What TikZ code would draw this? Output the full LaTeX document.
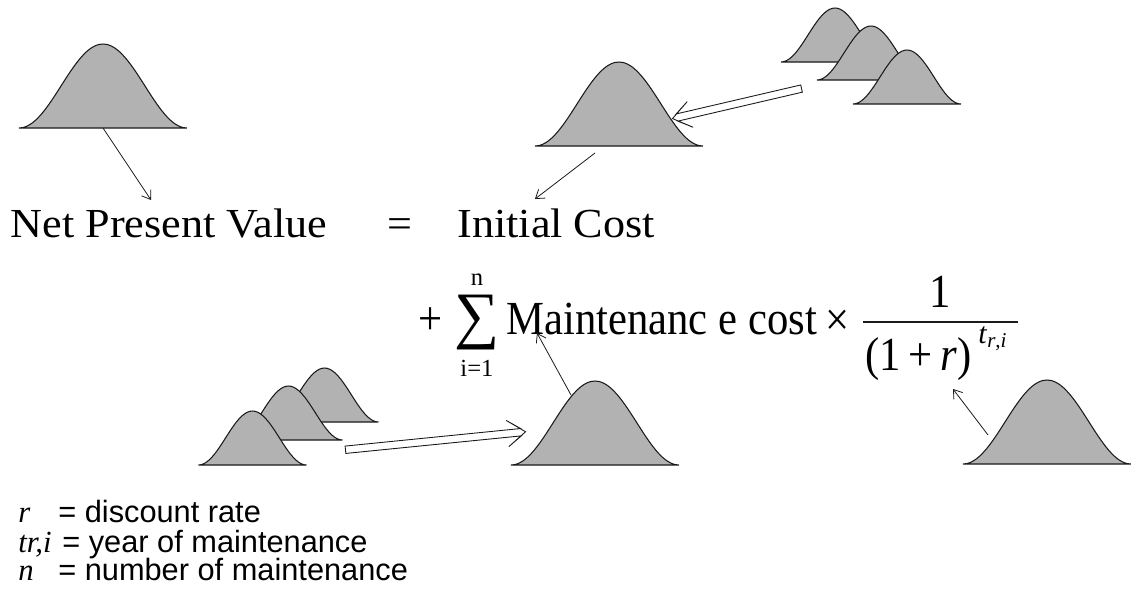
\documentclass[tikz,border=0pt]{standalone}
\usepackage{fontspec}
\setmainfont{Liberation Serif}
\setsansfont{Liberation Sans}
\newfontfamily\npvfont[FakeStretch=1.07]{Liberation Serif}
\newfontfamily\sumfont[FakeStretch=0.9]{Liberation Serif}
\usepackage{tikz}
\usetikzlibrary{arrows.meta,calc,positioning,shapes.arrows}
\definecolor{NPVGray}{HTML}{B2B2B2}
\definecolor{NPVLine}{HTML}{1A1A1A}

\begin{document}
\begin{tikzpicture}[
  x=1cm,y=1cm,>=Latex,
  edge/.style={-{Straight Barb[length=1.6mm,width=2.2mm]},draw=NPVLine,line width=0.45pt},
  hollow/.style={single arrow,draw=NPVLine,fill=white,line width=0.5pt,inner sep=0.065cm,single arrow head extend=0.19cm,single arrow tip angle=72,single arrow head indent=0.27cm,sloped,allow upside down},
  bellbody/.style={fill=NPVGray,draw=NPVLine,line width=0.6pt},
  bell/.pic={
    \filldraw[bellbody] plot[domain=-1:1,samples=41,smooth] (\x,{(1+cos(180*\x))/2}) -- cycle;
    \coordinate (-top) at (0,1);
    \coordinate (-base) at (0,0);
  },
  toptext/.style={font=\npvfont\fontsize{23.5}{26}\selectfont,inner sep=0pt},
  eqtext/.style={font=\sumfont\fontsize{27}{29}\selectfont,inner sep=0pt},
  limtext/.style={font=\fontsize{14}{16}\selectfont,inner sep=0pt},
  legtext/.style={font=\sffamily\fontsize{17.5}{19}\selectfont,inner sep=0pt,anchor=base west},
  legsym/.style={font=\itshape\fontsize{17.5}{19}\selectfont,inner sep=0pt,anchor=base west},
  fracbar/.style={draw=NPVLine,line width=0.9pt}
]
\path[use as bounding box,fill=white] (0,0) rectangle (22.62,12.08);

% Distributions.
\pic[scale=1.68] (tl) at (2.06,9.52) {bell};
\pic[scale=1.68] (tm) at (12.38,9.16) {bell};
\pic[scale=1.08] (ta) at (16.70,10.84) {bell};
\pic[scale=1.08] (tb) at (17.42,10.48) {bell};
\pic[scale=1.08] (tc) at (18.14,10.00) {bell};
\pic[scale=1.08] (bc) at (6.49,3.64) {bell};
\pic[scale=1.08] (bb) at (5.77,3.28) {bell};
\pic[scale=1.08] (ba) at (5.05,2.78) {bell};
\pic[scale=1.68] (bm) at (11.90,2.78) {bell};
\pic[scale=1.68] (br) at (20.94,2.80) {bell};

% Equation.
\node[toptext,anchor=base west] (npv) at (0.21,7.34) {Net Present Value};
\node[toptext,anchor=base] (eqsign) at (8.00,7.34) {=};
\node[toptext,anchor=base west] (init) at (9.14,7.34) {Initial Cost};
\node[eqtext,anchor=base] (plus) at (8.62,5.40) {+};
\node[inner sep=0pt,font=\fontsize{36}{36}\selectfont] (sigma) at (9.55,5.63) {∑};
\node[limtext] (upper) at (9.54,6.48) {n};
\node[limtext] (lower) at (9.54,4.72) {i=1};
\node[eqtext,anchor=base west] (maint) at (10.12,5.40) {Maintenanc e cost};
\node[eqtext] (times) at (16.76,5.62) {×};
\node[eqtext,anchor=base] (num) at (18.80,5.94) {1};
\draw[fracbar] (17.26,5.64) -- (20.36,5.64);
\node[eqtext,anchor=base west] (den) at (17.30,4.68) {(1\,+\,\textit{r})};
\node[inner sep=0pt,font=\fontsize{17}{19}\selectfont,anchor=base west] (expo) at (19.56,5.22) {\textit{t}\raisebox{-0.35ex}{\fontsize{12}{14}\selectfont\textit{r},\textit{i}}};

% Arrow ends.
\coordinate (npvin) at (3.02,8.08);
\coordinate (initout) at (11.90,9.02);
\coordinate (initin) at (10.70,8.10);
\coordinate (maintout) at (11.42,4.18);
\coordinate (maintin) at (10.74,5.42);
\coordinate (rateout) at (19.76,3.38);
\coordinate (ratein) at (19.06,4.30);
\coordinate (shiftA) at (16.08,10.32);
\coordinate (shiftB) at (13.50,9.72);
\coordinate (poolA) at (6.86,3.08);
\coordinate (poolB) at (10.46,3.44);

\draw[edge] (tl-base) -- (npvin);
\draw[edge] (initout) -- (initin);
\draw[edge] (maintout) -- (maintin);
\draw[edge] (rateout) -- (ratein);
\path (shiftA) -- node[hollow,minimum height=2.65cm] (costarrow) {} (shiftB);
\path (poolA) -- node[hollow,minimum height=3.62cm] (maintarrow) {} (poolB);

% Legend.
\node[legsym] (symr) at (0.36,1.64) {r};
\node[legtext] (defr) at (1.16,1.64) {= discount rate};
\node[legsym] (symt) at (0.36,1.04) {tr,i};
\node[legtext] (deft) at (1.24,1.04) {= year of maintenance};
\node[legsym] (symn) at (0.36,0.48) {n};
\node[legtext] (defn) at (1.16,0.48) {= number of maintenance};
\end{tikzpicture}
\end{document}
